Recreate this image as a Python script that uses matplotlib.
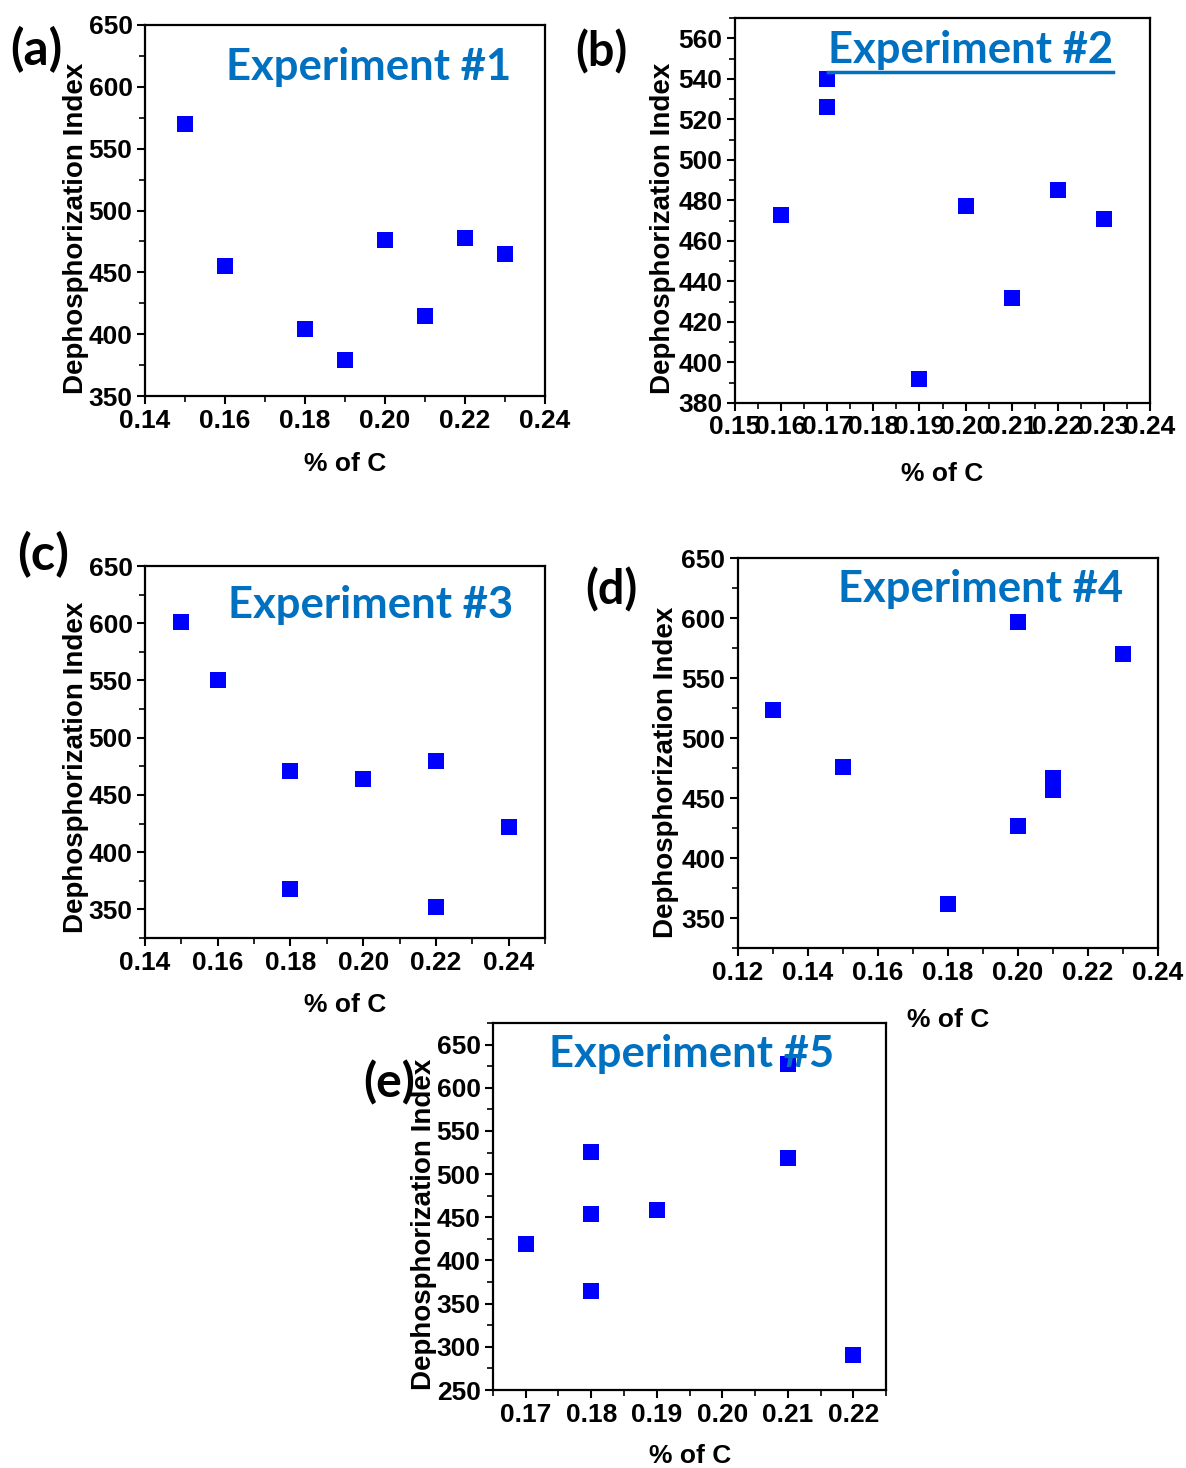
import matplotlib
matplotlib.use('Agg')
import matplotlib.pyplot as plt
from matplotlib.ticker import MultipleLocator, FormatStrFormatter
from matplotlib.lines import Line2D

W, H = 1186, 1468

# ---------------- data ----------------
a_x = [0.15, 0.16, 0.18, 0.19, 0.20, 0.21, 0.22, 0.23]
a_y = [570, 455, 404, 379, 476, 415, 478, 465]

b_x = [0.16, 0.17, 0.17, 0.19, 0.20, 0.21, 0.22, 0.23]
b_y = [473, 540, 526, 392, 477, 432, 485, 471]

c_x = [0.15, 0.16, 0.18, 0.18, 0.20, 0.22, 0.22, 0.24]
c_y = [601, 550, 471, 368, 464, 480, 352, 422]

d_x = [0.13, 0.15, 0.18, 0.20, 0.20, 0.21, 0.21, 0.23]
d_y = [523, 476, 362, 597, 427, 467, 457, 570]

e_x = [0.17, 0.18, 0.18, 0.18, 0.19, 0.21, 0.21, 0.22]
e_y = [419, 526, 454, 365, 459, 627, 519, 290]

titles = ["Experiment #1", "Experiment #2", "Experiment #3", "Experiment #4", "Experiment #5"]
panel_labels = ["(a)", "(b)", "(c)", "(d)", "(e)"]
xlabel = "% of C"
ylabel = "Dephosphorization Index"

plt.rcParams['font.family'] = ['Liberation Sans', 'DejaVu Sans']
plt.rcParams['font.weight'] = 'bold'

fig = plt.figure(figsize=(W / 100, H / 100), dpi=100)

def fx(x):
    return x / W

def fy(y):
    return 1 - y / H

panels = [
    dict(box=(145, 25, 545, 396), xlim=(0.14, 0.24), ylim=(350, 650), xmaj=0.02, xmin=0.01, ymaj=50, ymin=25,
         title_xy=(226, 67), label_xy=(10, 50), ylab_xy=(76, 228), xlab_xy=(345, 464)),
    dict(box=(735, 18, 1150, 403), xlim=(0.15, 0.24), ylim=(380, 570), xmaj=0.01, xmin=0.005, ymaj=20, ymin=10,
         title_xy=(828, 50), label_xy=(575, 52), ylab_xy=(663, 228), xlab_xy=(942, 474)),
    dict(box=(145, 566, 545, 938), xlim=(0.14, 0.25), ylim=(325, 650), xmaj=0.02, xmin=0.01, ymaj=50, ymin=25,
         title_xy=(228, 605), label_xy=(17, 555), ylab_xy=(76, 767), xlab_xy=(345, 1005)),
    dict(box=(738, 558, 1158, 948), xlim=(0.12, 0.24), ylim=(325, 650), xmaj=0.02, xmin=0.01, ymaj=50, ymin=25,
         title_xy=(838, 589), label_xy=(585, 590), ylab_xy=(666, 772), xlab_xy=(948, 1020)),
    dict(box=(493, 1023, 886, 1390), xlim=(0.165, 0.225), ylim=(250, 675), xmaj=0.01, xmin=0.005, ymaj=50, ymin=25,
         title_xy=(549, 1054), label_xy=(363, 1083), ylab_xy=(424, 1224), xlab_xy=(690, 1456)),
]
xs = [a_x, b_x, c_x, d_x, e_x]
ys = [a_y, b_y, c_y, d_y, e_y]

renderer = fig.canvas.get_renderer()

def fit_width(t, target):
    bb = t.get_window_extent(renderer=renderer)
    t.set_fontsize(t.get_fontsize() * target / bb.width)

tick_size = 19

for i, p in enumerate(panels):
    l, t, r, b = p['box']
    ax = fig.add_axes([fx(l), fy(b), (r - l) / W, (b - t) / H])
    ax.scatter(xs[i], ys[i], marker='s', s=118, color='#0000FF', linewidths=0, zorder=3)
    ax.set_xlim(*p['xlim'])
    ax.set_ylim(*p['ylim'])
    ax.xaxis.set_major_locator(MultipleLocator(p['xmaj']))
    ax.xaxis.set_minor_locator(MultipleLocator(p['xmin']))
    ax.yaxis.set_major_locator(MultipleLocator(p['ymaj']))
    ax.yaxis.set_minor_locator(MultipleLocator(p['ymin']))
    ax.xaxis.set_major_formatter(FormatStrFormatter('%.2f'))
    ax.yaxis.set_major_formatter(FormatStrFormatter('%d'))
    for s in ax.spines.values():
        s.set_linewidth(1.6)
    ax.tick_params(which='major', direction='out', length=6, width=1.5, pad=3, labelsize=tick_size)
    ax.tick_params(which='minor', direction='out', length=4, width=1.2)
    for lbl in ax.get_xticklabels() + ax.get_yticklabels():
        lbl.set_fontweight('bold')

    tt = fig.text(fx(p['title_xy'][0]), fy(p['title_xy'][1]), titles[i], color='#0070C0',
                  fontsize=30, fontweight='bold', family=['Lato', 'Open Sans', 'DejaVu Sans'],
                  ha='left', va='center')
    fit_width(tt, 285)
    if i == 1:
        bb = tt.get_window_extent(renderer=renderer)
        fig.add_artist(Line2D([bb.x0 / W, bb.x1 / W], [fy(72), fy(72)], color='#0070C0', lw=2.5,
                              transform=fig.transFigure))

    pl = fig.text(fx(p['label_xy'][0]), fy(p['label_xy'][1]), panel_labels[i], color='black',
                  fontsize=30, fontweight='bold', family=['Lato', 'Open Sans', 'DejaVu Sans'],
                  ha='left', va='center')
    fit_width(pl, 52)

    fig.text(fx(p['ylab_xy'][0]), fy(p['ylab_xy'][1]), ylabel, rotation=90, fontsize=20, fontweight='bold',
             ha='center', va='center')
    fig.text(fx(p['xlab_xy'][0]), fy(p['xlab_xy'][1]), xlabel, fontsize=tick_size, fontweight='bold',
             ha='center', va='center')

fig.savefig('out.png', dpi=100)
